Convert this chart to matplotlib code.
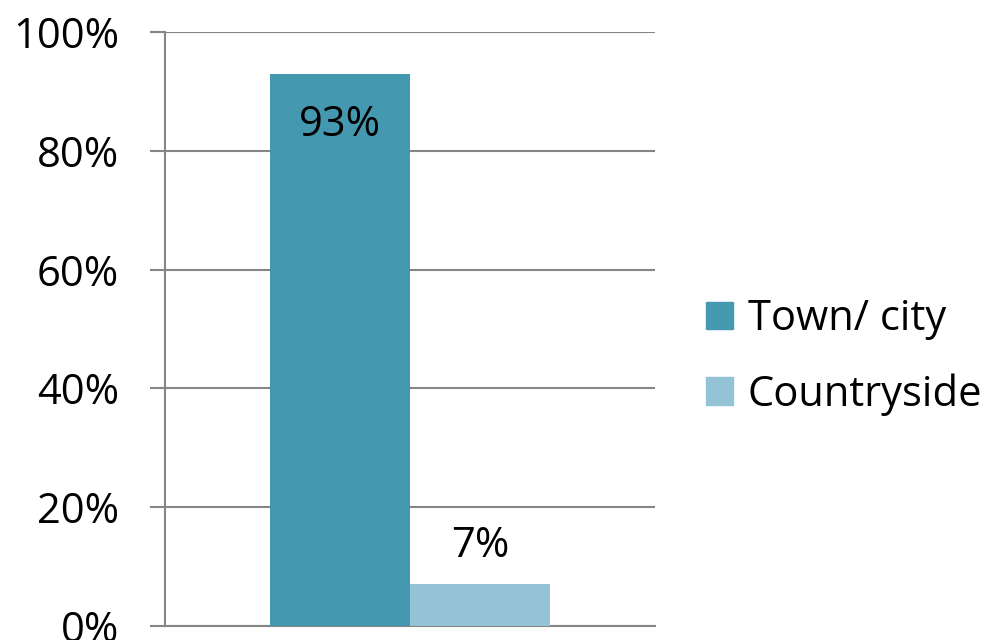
import matplotlib.pyplot as plt
import matplotlib.patches as mpatches
from matplotlib.ticker import FuncFormatter

plt.rcParams['font.family'] = ['Open Sans', 'DejaVu Sans']

# data
series = ["Town/ city", "Countryside"]
values = [93, 7]
colors = ["#4499B0", "#93C3D5"]
yticks = [0, 20, 40, 60, 80, 100]

fig = plt.figure(figsize=(9.85, 6.4), dpi=100)
ax = fig.add_axes([165 / 985, 1 - 626 / 640, 490 / 985, 594 / 640])

width = 0.5
offsets = [-0.25, 0.25]
for name, val, col, off in zip(series, values, colors, offsets):
    ax.bar(off, val, width=width, color=col, label=name, zorder=3)

# value labels: inside top for the big one, above for the small one
ax.text(offsets[0], values[0] - 5.2, f"{values[0]}%", ha="center", va="top",
        fontsize=30, color="black", zorder=4)
ax.text(offsets[1], values[1] + 3, f"{values[1]}%", ha="center", va="bottom",
        fontsize=30, color="black", zorder=4)

ax.set_xlim(-0.875, 0.875)
ax.set_ylim(0, 100)
ax.set_yticks(yticks)
ax.yaxis.set_major_formatter(FuncFormatter(lambda v, p: f"{int(v)}%"))
ax.set_xticks([])
ax.tick_params(axis="y", length=11, width=1.5, color="#868686", labelsize=30, pad=22)
ax.grid(axis="y", color="#868686", linewidth=1.5, zorder=0)
ax.set_axisbelow(True)
for s in ["top", "right"]:
    ax.spines[s].set_visible(False)
ax.spines["left"].set_color("#868686")
ax.spines["left"].set_linewidth(1.5)
ax.spines["bottom"].set_color("#868686")
ax.spines["bottom"].set_linewidth(1.5)

handles = [mpatches.Patch(color=c, label=n) for n, c in zip(series, colors)]
fig.legend(handles=handles, loc="center left", bbox_to_anchor=(706 / 985, 1 - 357 / 640),
           frameon=False, fontsize=30, handlelength=0.65, handleheight=0.65,
           handletextpad=0.35, labelspacing=0.8, borderpad=0, borderaxespad=0)

fig.savefig("out.png", dpi=100)
